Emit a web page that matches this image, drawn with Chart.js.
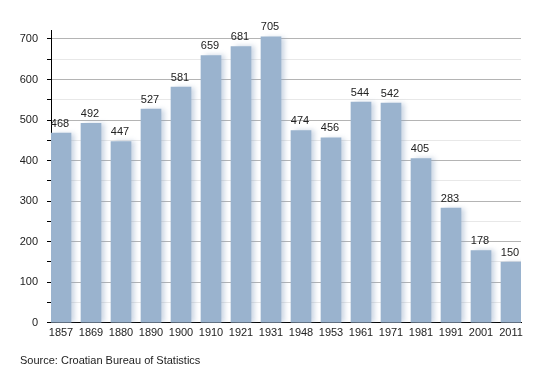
<!DOCTYPE html>
<html>
<head>
<meta charset="utf-8">
<script src="https://cdn.jsdelivr.net/npm/chart.js@4"></script>
<style>
  html, body { margin: 0; padding: 0; background: #ffffff; }
  #wrap { width: 550px; height: 373px; }
</style>
</head>
<body>
<div id="wrap"><canvas id="c" width="550" height="373"></canvas></div>
<script>
const years = ["1857","1869","1880","1890","1900","1910","1921","1931","1948","1953","1961","1971","1981","1991","2001","2011"];
const population = [468, 492, 447, 527, 581, 659, 681, 705, 474, 456, 544, 542, 405, 283, 178, 150];
const yTickValues = [0, 50, 100, 150, 200, 250, 300, 350, 400, 450, 500, 550, 600, 650, 700];
const sourceText = "Source: Croatian Bureau of Statistics";

const FONT = "'Liberation Sans', Arial, sans-serif";

const shadowPlugin = {
  id: 'barShadow',
  beforeDatasetDraw(chart) {
    const ctx = chart.ctx;
    ctx.save();
    ctx.shadowColor = 'rgba(140,165,195,0.45)';
    ctx.shadowOffsetX = 4;
    ctx.shadowOffsetY = 0;
    ctx.shadowBlur = 5;
  },
  afterDatasetDraw(chart) {
    chart.ctx.restore();
  }
};

const labelPlugin = {
  id: 'valueLabels',
  afterDatasetsDraw(chart) {
    const ctx = chart.ctx;
    const meta = chart.getDatasetMeta(0);
    ctx.save();
    ctx.font = "11px " + FONT;
    ctx.fillStyle = '#222222';
    ctx.textAlign = 'center';
    ctx.textBaseline = 'bottom';
    meta.data.forEach((bar, i) => {
      ctx.fillText(String(population[i]), bar.x - 1, bar.y - 4);
    });
    ctx.restore();
  }
};

new Chart(document.getElementById('c'), {
  type: 'bar',
  data: {
    datasets: [{
      data: population.map((v, i) => ({ x: i, y: v })),
      backgroundColor: '#9ab3ce',
      borderWidth: 0,
      barThickness: 20
    }]
  },
  options: {
    responsive: false,
    animation: false,
    devicePixelRatio: 1,
    layout: { padding: { left: 20, right: 29, top: 30, bottom: 0 } },
    plugins: {
      legend: { display: false },
      tooltip: { enabled: false },
      title: {
        display: true,
        text: sourceText,
        position: 'bottom',
        align: 'start',
        color: '#222222',
        font: { family: FONT, size: 11, weight: 'normal' },
        padding: { top: 12, bottom: 5 }
      }
    },
    scales: {
      x: {
        type: 'linear',
        offset: false,
        min: -1/3,
        max: 15 + 1/3,
        afterBuildTicks(scale) {
          scale.ticks = years.map((y, i) => ({ value: i }));
        },
        afterFit(scale) { scale.height = 20; },
        grid: { display: false, drawTicks: false, offset: false },
        border: { display: true, color: '#000000', width: 1 },
        ticks: {
          autoSkip: false,
          maxRotation: 0,
          padding: 4,
          color: '#222222',
          font: { family: FONT, size: 11 },
          callback: (v) => years[v]
        }
      },
      y: {
        min: 0,
        max: 722,
        afterBuildTicks(scale) {
          scale.ticks = yTickValues.map(v => ({ value: v }));
        },
        afterFit(scale) { scale.width = 31; },
        border: { display: true, color: '#000000', width: 1 },
        grid: {
          drawTicks: true,
          tickLength: 4,
          color: (ctx) => (ctx.tick && ctx.tick.value % 100 === 0) ? '#b4b4b4' : '#e8e8e8',
          tickColor: '#000000',
          lineWidth: 1
        },
        ticks: {
          padding: 9,
          color: '#222222',
          font: { family: FONT, size: 11 },
          callback: (v) => (v % 100 === 0 ? String(v) : '')
        }
      }
    }
  },
  plugins: [shadowPlugin, labelPlugin]
});
</script>
</body>
</html>
